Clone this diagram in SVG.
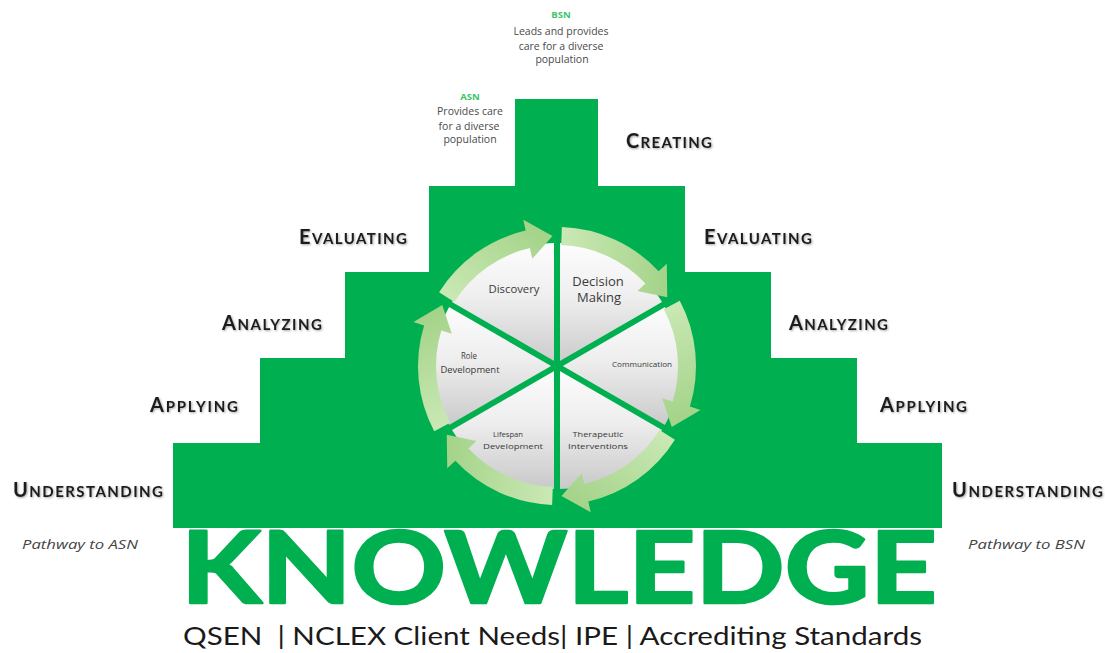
<svg xmlns="http://www.w3.org/2000/svg" width="1105" height="653" viewBox="0 0 1105 653">
<style>
.lbl{font-family:Lato,"Liberation Sans",sans-serif;font-weight:bold;fill:#1c1c1c;filter:url(#sh)}
.big{font-size:20px}.sm{font-size:15px}
.note{font-family:"Open Sans","Liberation Sans",sans-serif;font-size:10.5px;fill:#4a4a4a;text-anchor:middle}
.tag{font-family:"Open Sans","Liberation Sans",sans-serif;font-size:9.5px;font-weight:bold;fill:#3cc46a;text-anchor:middle}
.path{font-family:"Open Sans","Liberation Sans",sans-serif;font-size:12.5px;font-style:italic;fill:#444}
.seg{font-family:"Open Sans","Liberation Sans",sans-serif;fill:#3a3a3a;text-anchor:middle}
.wedge{fill:url(#wg)}
.spoke{stroke:#00B050;stroke-width:6;stroke-linecap:butt}
</style>
<defs>
<filter id="sh" x="-10%" y="-30%" width="130%" height="170%">
<feDropShadow dx="1" dy="1" stdDeviation="0.8" flood-color="#000" flood-opacity="0.35"/>
</filter>
<linearGradient id="wg" x1="0" y1="0" x2="0" y2="1">
<stop offset="0" stop-color="#fdfdfd"/>
<stop offset="0.45" stop-color="#eeeeee"/>
<stop offset="1" stop-color="#c9c9c9"/>
</linearGradient>
<linearGradient id="ag" x1="0" y1="1" x2="1" y2="0">
<stop offset="0" stop-color="#cdeab8"/>
<stop offset="1" stop-color="#9fd083"/>
</linearGradient>
<path id="arc" fill="url(#ag)" d="M439.1,292.3 A139,139 0 0 1 525.7,230.6 L523.3,219.8 L552.5,236.1 L532.3,258.8 L529.8,248.1 A121,121 0 0 0 454.4,301.9 Z"/>
</defs>

<g id="pyramid">
<path fill="#00B050" d="M515,99 H598 V186 H685 V272 H771 V358 H857 V443 H942 V528 H173 V443 H260 V358 H345 V272 H429 V186 H515 Z"/>
</g>

<g id="knowledge">
<text x="181" y="603" textLength="756" lengthAdjust="spacingAndGlyphs" font-family="Lato,'Liberation Sans',sans-serif" font-weight="bold" font-size="100" fill="#00B050" stroke="#00B050" stroke-width="2.5" stroke-linejoin="round">KNOWLEDGE</text>
</g>

<g id="standards">
<text x="183" y="645" xml:space="preserve" textLength="739" lengthAdjust="spacingAndGlyphs" font-family="Lato,'Open Sans',sans-serif" font-size="25" fill="#1a1a1a">QSEN  | NCLEX Client Needs| IPE | Accrediting Standards</text>
</g>

<g id="bsn">
<text class="tag" x="561" y="18">BSN</text>
<text class="note" x="561" y="35">Leads and provides</text>
<text class="note" x="561" y="50">care for a diverse</text>
<text class="note" x="562" y="63">population</text>
</g>
<g id="asn">
<text class="tag" x="470" y="100">ASN</text>
<text class="note" x="470" y="115">Provides care</text>
<text class="note" x="469" y="130">for a diverse</text>
<text class="note" x="470" y="143">population</text>
</g>

<g id="label-creating"><text class="lbl" x="626" y="148" textLength="86" lengthAdjust="spacing"><tspan class="big">C</tspan><tspan class="sm">REATING</tspan></text></g>
<g id="label-evaluating-left"><text class="lbl" x="299" y="244" textLength="108" lengthAdjust="spacing"><tspan class="big">E</tspan><tspan class="sm">VALUATING</tspan></text></g>
<g id="label-evaluating-right"><text class="lbl" x="704" y="244" textLength="108" lengthAdjust="spacing"><tspan class="big">E</tspan><tspan class="sm">VALUATING</tspan></text></g>
<g id="label-analyzing-left"><text class="lbl" x="222" y="330" textLength="100" lengthAdjust="spacing"><tspan class="big">A</tspan><tspan class="sm">NALYZING</tspan></text></g>
<g id="label-analyzing-right"><text class="lbl" x="789" y="330" textLength="99" lengthAdjust="spacing"><tspan class="big">A</tspan><tspan class="sm">NALYZING</tspan></text></g>
<g id="label-applying-left"><text class="lbl" x="150" y="412" textLength="88" lengthAdjust="spacing"><tspan class="big">A</tspan><tspan class="sm">PPLYING</tspan></text></g>
<g id="label-applying-right"><text class="lbl" x="880" y="412" textLength="87" lengthAdjust="spacing"><tspan class="big">A</tspan><tspan class="sm">PPLYING</tspan></text></g>
<g id="label-understanding-left"><text class="lbl" x="13" y="497" textLength="150" lengthAdjust="spacing"><tspan class="big">U</tspan><tspan class="sm">NDERSTANDING</tspan></text></g>
<g id="label-understanding-right"><text class="lbl" x="952" y="497" textLength="151" lengthAdjust="spacing"><tspan class="big">U</tspan><tspan class="sm">NDERSTANDING</tspan></text></g>

<g id="pathway-asn"><text class="path" x="22" y="549" textLength="116" lengthAdjust="spacingAndGlyphs">Pathway to ASN</text></g>
<g id="pathway-bsn"><text class="path" x="968" y="549" textLength="117" lengthAdjust="spacingAndGlyphs">Pathway to BSN</text></g>

<g id="cycle">
<g id="seg-discovery">
<path class="wedge" d="M557,366 L450.5,304.5 A123,123 0 0 1 557,243 Z"/>
<text class="seg" x="514" y="293" font-size="10" textLength="51" lengthAdjust="spacingAndGlyphs">Discovery</text>
</g>
<g id="seg-decision">
<path class="wedge" d="M557,366 L557,243 A123,123 0 0 1 663.5,304.5 Z"/>
<text class="seg" x="598" y="286" font-size="13">Decision</text>
<text class="seg" x="599" y="302" font-size="13">Making</text>
</g>
<g id="seg-communication">
<path class="wedge" d="M557,366 L663.5,304.5 A123,123 0 0 1 663.5,427.5 Z"/>
<text class="seg" x="642" y="367" font-size="7.5" textLength="60" lengthAdjust="spacingAndGlyphs">Communication</text>
</g>
<g id="seg-therapeutic">
<path class="wedge" d="M557,366 L663.5,427.5 A123,123 0 0 1 557,489 Z"/>
<text class="seg" x="598" y="437" font-size="8" textLength="51" lengthAdjust="spacingAndGlyphs">Therapeutic</text>
<text class="seg" x="598" y="449" font-size="8" textLength="60" lengthAdjust="spacingAndGlyphs">Interventions</text>
</g>
<g id="seg-lifespan">
<path class="wedge" d="M557,366 L557,489 A123,123 0 0 1 450.5,427.5 Z"/>
<text class="seg" x="508" y="437" font-size="8" textLength="30" lengthAdjust="spacingAndGlyphs">Lifespan</text>
<text class="seg" x="513" y="449" font-size="8" textLength="60" lengthAdjust="spacingAndGlyphs">Development</text>
</g>
<g id="seg-role">
<path class="wedge" d="M557,366 L450.5,427.5 A123,123 0 0 1 450.5,304.5 Z"/>
<text class="seg" x="469" y="359" font-size="8.5" textLength="16" lengthAdjust="spacingAndGlyphs">Role</text>
<text class="seg" x="470" y="373" font-size="8.5" textLength="59" lengthAdjust="spacingAndGlyphs">Development</text>
</g>
</g>

<g id="connectors">
<use href="#arc"/>
<use href="#arc" transform="rotate(60 557 366)"/>
<use href="#arc" transform="rotate(120 557 366)"/>
<use href="#arc" transform="rotate(180 557 366)"/>
<use href="#arc" transform="rotate(240 557 366)"/>
<use href="#arc" transform="rotate(300 557 366)"/>
<line class="spoke" x1="557" y1="366" x2="557" y2="220"/>
<line class="spoke" x1="557" y1="366" x2="683.4" y2="293"/>
<line class="spoke" x1="557" y1="366" x2="683.4" y2="439"/>
<line class="spoke" x1="557" y1="366" x2="557" y2="512"/>
<line class="spoke" x1="557" y1="366" x2="430.6" y2="439"/>
<line class="spoke" x1="557" y1="366" x2="430.6" y2="293"/>
</g>
</svg>
